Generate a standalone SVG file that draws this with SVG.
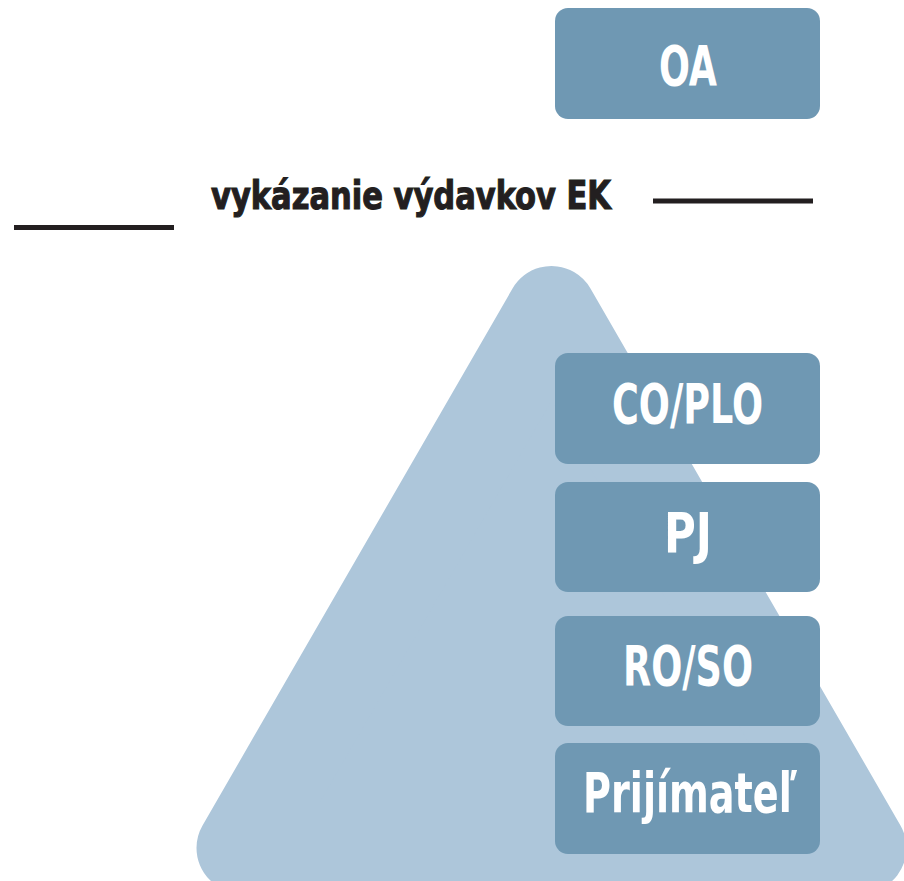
<svg xmlns="http://www.w3.org/2000/svg" width="904" height="881" viewBox="0 0 904 881">
<style>
.box{fill:#6f98b3}
.lbl{font-family:"Liberation Sans Narrow","DejaVu Sans Condensed","Liberation Sans",sans-serif;font-weight:bold;fill:#ffffff;font-size:55px;text-anchor:middle}
.title{font-family:"Liberation Sans Narrow","DejaVu Sans Condensed","Liberation Sans",sans-serif;font-weight:bold;fill:#231f20;stroke:#231f20;stroke-width:1.1;font-size:39px}
.rule{stroke:#231f20;stroke-width:5}
</style>
<rect width="904" height="881" fill="#ffffff"/>
<g id="pyramid">
<polygon points="551.5,311 861.5,848 241.5,848" fill="#adc6da" stroke="#adc6da" stroke-width="90" stroke-linejoin="round"/>
</g>
<g id="connectors">
<line class="rule" x1="14" y1="227.5" x2="174" y2="227.5"/>
<line class="rule" x1="653" y1="201" x2="813" y2="201"/>
</g>
<g id="title">
<text class="title" x="211" y="209" textLength="400" lengthAdjust="spacingAndGlyphs">vykázanie výdavkov EK</text>
</g>
<g id="oa">
<rect class="box" x="555" y="8" width="265" height="111" rx="13"/>
<text class="lbl" x="688" y="85" textLength="58" lengthAdjust="spacingAndGlyphs">OA</text>
</g>
<g id="coplo">
<rect class="box" x="555" y="353" width="265" height="111" rx="13"/>
<text class="lbl" x="687.5" y="423" textLength="151" lengthAdjust="spacingAndGlyphs">CO/PLO</text>
</g>
<g id="pj">
<rect class="box" x="555" y="482" width="265" height="110" rx="13"/>
<text class="lbl" x="688" y="552" textLength="48" lengthAdjust="spacingAndGlyphs">PJ</text>
</g>
<g id="roso">
<rect class="box" x="555" y="616" width="265" height="110" rx="13"/>
<text class="lbl" x="688" y="685" textLength="130" lengthAdjust="spacingAndGlyphs">RO/SO</text>
</g>
<g id="prijimatel">
<rect class="box" x="555" y="743" width="265" height="111" rx="13"/>
<text class="lbl" x="690" y="812" textLength="214" lengthAdjust="spacingAndGlyphs">Prijímateľ</text>
</g>
</svg>
